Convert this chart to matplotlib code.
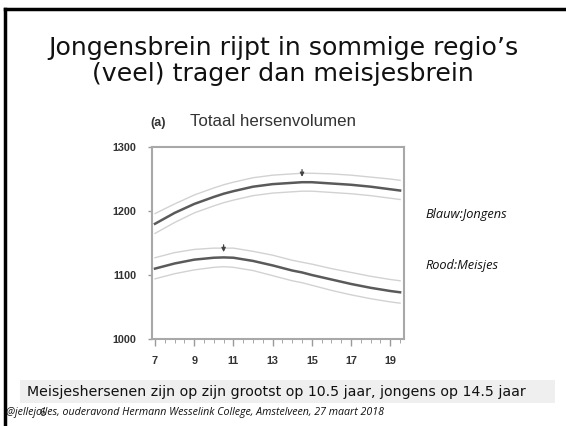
import numpy as np
import matplotlib.pyplot as plt
from matplotlib.patches import Rectangle
from matplotlib.lines import Line2D

# leeftijd (jaar) en totaal hersenvolumen (cm3)
ages = [7, 8, 9, 10, 10.5, 11, 12, 13, 14, 14.5, 15, 16, 17, 18, 19, 19.5]
boys = [1180, 1197, 1211, 1222, 1227, 1231, 1238, 1242, 1244, 1245, 1245, 1243, 1241, 1238, 1234, 1232]
boys_hi = [1196, 1211, 1225, 1236, 1241, 1245, 1252, 1256, 1258, 1259, 1259, 1258, 1256, 1253, 1250, 1248]
boys_lo = [1165, 1182, 1197, 1208, 1213, 1217, 1224, 1228, 1230, 1231, 1231, 1229, 1227, 1224, 1220, 1218]
girls = [1110, 1118, 1124, 1127, 1127.5, 1127, 1122, 1115, 1107, 1104, 1100, 1093, 1086, 1080, 1075, 1073]
girls_hi = [1127, 1135, 1140, 1142, 1142, 1142, 1137, 1131, 1123, 1120, 1117, 1110, 1104, 1098, 1093, 1091]
girls_lo = [1094, 1102, 1108, 1112, 1113, 1112, 1107, 1099, 1091, 1088, 1084, 1076, 1069, 1063, 1058, 1056]
peaks = [(14.5, 1245), (10.5, 1127.5)]

xticks = [7, 9, 11, 13, 15, 17, 19]
yticks = [1000, 1100, 1200, 1300]

title = "Jongensbrein rijpt in sommige regio\u2019s\n(veel) trager dan meisjesbrein"
caption = "Meisjeshersenen zijn op zijn grootst op 10.5 jaar, jongens op 14.5 jaar"
footer = "@jellejolles, ouderavond Hermann Wesselink College, Amstelveen, 27 maart 2018"

fig = plt.figure(figsize=(5.66, 4.26), dpi=100)

ax = fig.add_axes([0.2686, 0.2042, 0.4452, 0.4507])
for lo, hi, mid in [(boys_lo, boys_hi, boys), (girls_lo, girls_hi, girls)]:
    ax.plot(ages, hi, color='#d2d2d2', lw=1.0)
    ax.plot(ages, lo, color='#d2d2d2', lw=1.0)
    ax.plot(ages, mid, color='#5a5a5a', lw=1.8)
for px, py in peaks:
    ax.annotate('', xy=(px, py + 4), xytext=(px, py + 24),
                arrowprops=dict(arrowstyle='-|>', color='#444444', lw=0.9,
                                mutation_scale=6))
ax.set_xlim(6.85, 19.7)
ax.set_ylim(1000, 1300)
ax.set_xticks(xticks)
ax.set_xticks(np.arange(7, 19.6, 0.5), minor=True)
ax.set_yticks(yticks)
ax.tick_params(axis='both', colors='#9a9a9a', labelcolor='#333333',
               labelsize=7.8, width=1.0)
ax.tick_params(axis='x', which='major', length=5, pad=7)
ax.tick_params(axis='x', which='minor', length=3, color='#9a9a9a')
ax.tick_params(axis='y', length=3, pad=8)
for lab in ax.get_xticklabels() + ax.get_yticklabels():
    lab.set_fontweight('bold')
    lab.set_family('Liberation Sans')
for sp in ax.spines.values():
    sp.set_color('#a8a8a8')
    sp.set_linewidth(1.5)

# slide-rand
fig.add_artist(Line2D([5 / 566, 1], [1 - 9 / 426, 1 - 9 / 426], color='black', lw=2.5))
fig.add_artist(Line2D([5 / 566, 5 / 566], [0, 1 - 9 / 426], color='black', lw=2.5))

fig.text(0.5, 1 - 61 / 426, title, ha='center', va='center', fontsize=18.2,
         family='DejaVu Sans', linespacing=1.14, color='#111111')
fig.text(150 / 566, 1 - 123 / 426, '(a)', ha='left', va='center', fontsize=9,
         fontweight='bold', family='Liberation Sans', color='#333333')
fig.text(190 / 566, 1 - 121 / 426, 'Totaal hersenvolumen', ha='left', va='center',
         fontsize=12.2, family='Liberation Sans', color='#333333')

fig.text(425 / 566, 1 - 215 / 426, 'Blauw:Jongens', ha='left', va='center',
         fontsize=9.2, style='italic', family='Open Sans', color='#111111')
fig.text(425 / 566, 1 - 265 / 426, 'Rood:Meisjes', ha='left', va='center',
         fontsize=9.2, style='italic', family='Open Sans', color='#111111')

fig.add_artist(Rectangle((20 / 566, 1 - 403 / 426), 535 / 566, 23 / 426,
                         transform=fig.transFigure, facecolor='#efefef',
                         edgecolor='none'))
fig.text(27 / 566, 1 - 392 / 426, caption, ha='left', va='center',
         fontsize=10.15, family='DejaVu Sans', color='#111111')
fig.text(6 / 566, 1 - 412 / 426, footer, ha='left', va='center',
         fontsize=7.7, style='italic', family='Open Sans', color='#111111')
fig.text(39 / 566, 1 - 413 / 426, '6', ha='left', va='center',
         fontsize=7.5, family='Open Sans', color='#111111')

fig.savefig('out.png', dpi=100)
